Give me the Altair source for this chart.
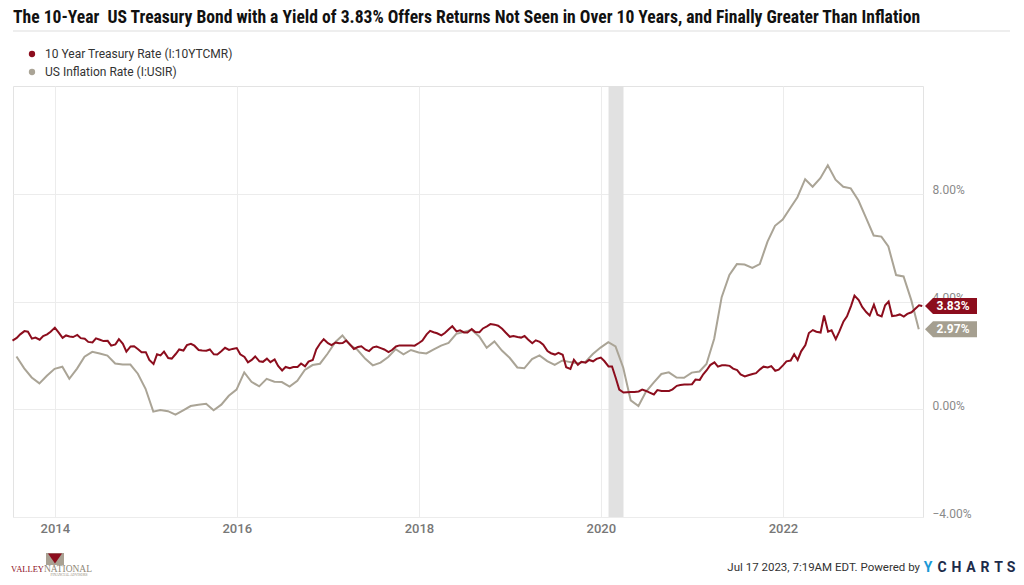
import altair as alt
import pandas as pd

# ---------------- data ----------------
# 10 Year Treasury Rate (%), semi-monthly readings (1st & 15th), Jul 2013 - Jul 2023
tsy_2013 = [2.55, 2.65, 2.78, 2.90, 2.88, 2.62, 2.66, 2.58, 2.72, 2.78, 2.88]
tsy_2014 = [3.03, 2.86, 2.65, 2.74, 2.70, 2.68, 2.76, 2.64, 2.62, 2.50, 2.48, 2.63,
            2.58, 2.53, 2.54, 2.36, 2.41, 2.60, 2.43, 2.14, 2.33, 2.34, 2.23, 2.12]
tsy_2015 = [2.12, 1.83, 1.68, 2.04, 2.00, 2.14, 1.90, 1.88, 2.05, 2.22, 2.18, 2.38,
            2.43, 2.36, 2.20, 2.18, 2.17, 2.22, 2.04, 2.03, 2.16, 2.28, 2.20, 2.24]
tsy_2016 = [2.27, 2.04, 1.94, 1.74, 1.83, 1.96, 1.78, 1.76, 1.88, 1.75, 1.85, 1.61,
            1.44, 1.57, 1.52, 1.57, 1.57, 1.70, 1.59, 1.77, 1.83, 2.22, 2.45, 2.60]
tsy_2017 = [2.45, 2.38, 2.48, 2.45, 2.46, 2.55, 2.39, 2.24, 2.31, 2.34, 2.21, 2.16,
            2.30, 2.33, 2.27, 2.22, 2.12, 2.20, 2.33, 2.37, 2.37, 2.37, 2.37, 2.36]
tsy_2018 = [2.46, 2.55, 2.78, 2.91, 2.86, 2.82, 2.74, 2.83, 2.97, 3.08, 2.89, 2.93,
            2.85, 2.85, 2.98, 2.87, 2.86, 3.00, 3.08, 3.16, 3.14, 3.10, 2.99, 2.85]
tsy_2019 = [2.69, 2.72, 2.68, 2.66, 2.72, 2.59, 2.45, 2.56, 2.50, 2.40, 2.16, 2.08,
            2.03, 2.09, 2.02, 1.56, 1.50, 1.84, 1.65, 1.76, 1.73, 1.83, 1.78, 1.87]
tsy_2020 = [1.92, 1.79, 1.59, 1.59, 1.16, 0.73, 0.62, 0.63, 0.64, 0.64, 0.66, 0.73,
            0.68, 0.62, 0.55, 0.71, 0.68, 0.68, 0.68, 0.74, 0.87, 0.90, 0.92, 0.92]
tsy_2021 = [0.93, 1.10, 1.09, 1.30, 1.45, 1.64, 1.74, 1.58, 1.63, 1.63, 1.61, 1.51,
            1.45, 1.29, 1.22, 1.26, 1.31, 1.34, 1.48, 1.58, 1.55, 1.60, 1.43, 1.47]
tsy_2022 = [1.63, 1.78, 1.81, 2.04, 1.83, 2.15, 2.38, 2.83, 2.94, 2.88, 2.85, 3.48,
            2.88, 2.93, 2.60, 2.88, 3.26, 3.45, 3.83, 4.22, 4.05, 3.80, 3.61, 3.48]
tsy_2023 = [3.88, 3.51, 3.45, 3.86, 4.00, 3.46, 3.48, 3.52, 3.44, 3.54, 3.60, 3.72,
            3.86, 3.83]

# US Inflation Rate (%), monthly, Jul 2013 - Jun 2023
inf_2013 = [1.96, 1.52, 1.18, 0.96, 1.24, 1.50]
inf_2014 = [1.58, 1.13, 1.51, 1.95, 2.13, 2.07, 1.99, 1.70, 1.66, 1.66, 1.32, 0.76]
inf_2015 = [-0.09, -0.03, -0.07, -0.20, -0.04, 0.12, 0.17, 0.20, -0.04, 0.17, 0.50, 0.73]
inf_2016 = [1.37, 1.02, 0.85, 1.13, 1.02, 1.01, 0.84, 1.06, 1.46, 1.64, 1.69, 2.07]
inf_2017 = [2.50, 2.74, 2.38, 2.20, 1.87, 1.63, 1.73, 1.94, 2.23, 2.04, 2.20, 2.11]
inf_2018 = [2.07, 2.21, 2.36, 2.46, 2.80, 2.87, 2.95, 2.70, 2.28, 2.52, 2.18, 1.91]
inf_2019 = [1.55, 1.52, 1.86, 2.00, 1.79, 1.65, 1.81, 1.75, 1.71, 1.76, 2.05, 2.29]
inf_2020 = [2.49, 2.33, 1.54, 0.33, 0.12, 0.65, 0.99, 1.31, 1.37, 1.18, 1.17, 1.36]
inf_2021 = [1.40, 1.68, 2.62, 4.16, 4.99, 5.39, 5.37, 5.25, 5.39, 6.22, 6.81, 7.04]
inf_2022 = [7.48, 7.87, 8.54, 8.26, 8.58, 9.06, 8.52, 8.26, 8.20, 7.75, 7.11, 6.45]
inf_2023 = [6.41, 6.04, 4.98, 4.93, 4.05, 2.97]

series_names = ["10 Year Treasury Rate (I:10YTCMR)", "US Inflation Rate (I:USIR)"]
year_ticks = [2014, 2016, 2018, 2020, 2022]
y_ticks = [-4, 0, 4, 8]
recession_start = "2020-02-01"
recession_end = "2020-04-01"

title_text = ("The 10-Year\u00a0 US Treasury Bond with a Yield of 3.83% Offers Returns Not Seen "
              "in Over 10 Years, and Finally Greater Than Inflation")
footer_text = "Jul 17 2023, 7:19AM EDT. Powered by"

# ---------------- tables ----------------
tsy_values = (tsy_2013 + tsy_2014 + tsy_2015 + tsy_2016 + tsy_2017 + tsy_2018 +
              tsy_2019 + tsy_2020 + tsy_2021 + tsy_2022 + tsy_2023)
tsy_dates = list(pd.date_range("2013-07-15", "2023-07-01", freq="SMS")) + [pd.Timestamp("2023-07-14")]
n = min(len(tsy_dates), len(tsy_values))
tsy_df = pd.DataFrame({"date": tsy_dates[:n], "value": tsy_values[:n]})

inf_values = (inf_2013 + inf_2014 + inf_2015 + inf_2016 + inf_2017 + inf_2018 +
              inf_2019 + inf_2020 + inf_2021 + inf_2022 + inf_2023)
inf_dates = list(pd.date_range("2013-08-01", periods=len(inf_values), freq="MS") - pd.Timedelta(days=1))
inf_df = pd.DataFrame({"date": inf_dates, "value": inf_values})

rec_df = pd.DataFrame({"start": [pd.Timestamp(recession_start)], "end": [pd.Timestamp(recession_end)]})

end_df = pd.DataFrame({
    "series": ["tsy", "inf"],
    "value": [tsy_values[-1], inf_values[-1]],
    "label": [f"{tsy_values[-1]:.2f}%", f"{inf_values[-1]:.2f}%"],
})

# ---------------- styling ----------------
RED = "#8c0d1d"
GRAY = "#aaa496"
GRAY_BOX = "#a59f90"
W, H = 910, 431

x_scale = alt.Scale(domain=[alt.DateTime(year=2013, month=7, date=17),
                            alt.DateTime(year=2023, month=7, date=17)])
y_scale = alt.Scale(domain=[-4, 12], nice=False, zero=False)

x_axis = alt.Axis(values=[alt.DateTime(year=y, month=1, date=1) for y in year_ticks],
                  format="%Y", title=None, grid=True, gridColor="#ececec", ticks=False,
                  domain=False, labelColor="#777777", labelFontSize=13, labelFont="Roboto",
                  labelFontWeight=500, labelPadding=5, labelFlush=False)
y_axis = alt.Axis(orient="right", values=y_ticks, labelExpr="format(datum.value, '.2f') + '%'",
                  title=None, grid=True, gridColor="#ececec", ticks=False, domain=False,
                  labelColor="#8a8a8a", labelFontSize=12, labelFont="Roboto", labelPadding=9,
                  labelAlign="left", labelBaseline="alphabetic", labelFlush=False)


def one(**cols):
    return pd.DataFrame({k: [v] for k, v in cols.items()})


def txt(s, x, y, **kw):
    return alt.Chart(one(t=s)).mark_text(**kw).encode(x=alt.value(x), y=alt.value(y), text="t:N")


recession = alt.Chart(rec_df).mark_rect(color="#e1e1e1").encode(
    x=alt.X("start:T", scale=x_scale, axis=x_axis), x2="end:T",
    y=alt.value(0), y2=alt.value(H))

inf_line = alt.Chart(inf_df).mark_line(color=GRAY, strokeWidth=2).encode(
    x=alt.X("date:T", scale=x_scale, axis=x_axis),
    y=alt.Y("value:Q", scale=y_scale, axis=y_axis))

tsy_line = alt.Chart(tsy_df).mark_line(color=RED, strokeWidth=2).encode(
    x=alt.X("date:T", scale=x_scale, axis=x_axis),
    y=alt.Y("value:Q", scale=y_scale, axis=y_axis))

tag_path = "M -1 0 L -0.692 -0.3077 L 1 -0.3077 L 1 0.3077 L -0.692 0.3077 Z"
tags = alt.Chart(end_df).mark_point(shape=tag_path, size=2704, filled=True, opacity=1,
                                    strokeWidth=0).encode(
    x=alt.value(938),
    y=alt.Y("value:Q", scale=y_scale, axis=y_axis),
    color=alt.Color("series:N", scale=alt.Scale(domain=["tsy", "inf"], range=[RED, GRAY_BOX]),
                    legend=None))
tag_text = alt.Chart(end_df).mark_text(color="white", fontWeight="bold", fontSize=12,
                                       font="Roboto", align="center", baseline="middle").encode(
    x=alt.value(940), y=alt.Y("value:Q", scale=y_scale, axis=y_axis), text="label:N")

# title, separator, legend
title = txt(title_text, 0, -68, align="left", baseline="middle", fontSize=17.6, fontWeight="bold",
            font="Liberation Sans Narrow, Roboto Condensed, Roboto", color="#111111")
separator = alt.Chart(one(a=0)).mark_rule(color="#dddddd", strokeWidth=1).encode(
    x=alt.value(0), x2=alt.value(997), y=alt.value(-55))

leg_dot1 = alt.Chart(one(a=0)).mark_circle(size=40, color=RED, opacity=1).encode(
    x=alt.value(19), y=alt.value(-32))
leg_dot2 = alt.Chart(one(a=0)).mark_circle(size=40, color=GRAY, opacity=1).encode(
    x=alt.value(19), y=alt.value(-14))
leg_t1 = txt(series_names[0], 32, -32, align="left", baseline="middle", fontSize=12,
             font="Roboto", color="#333333")
leg_t2 = txt(series_names[1], 32, -14, align="left", baseline="middle", fontSize=12,
             font="Roboto", color="#333333")

# footer
FOOT_Y = 482
footer = txt(footer_text, 907, FOOT_Y, align="right", baseline="middle", fontSize=11.5,
             font="Roboto", color="#333333")
ych_letters = ["Y", "C", "H", "A", "R", "T", "S"]
ych_x = [915, 929, 943.5, 958, 972, 985.5, 998]
ych_layers = []
for letter, lx in zip(ych_letters, ych_x):
    ych_layers.append(txt(letter, lx, FOOT_Y, align="center", baseline="middle", fontSize=14,
                          fontWeight="bold", font="Roboto",
                          color="#1a9ad6" if letter == "Y" else "#1d2b4a"))

# logo
rect_path = "M -1 -0.667 L 1 -0.667 L 1 0.667 L -1 0.667 Z"
tri_path = "M -0.78 -0.62 L 0.78 -0.62 L 0 0.5 Z"
logo_box = alt.Chart(one(a=0)).mark_point(shape=rect_path, size=324, filled=True, opacity=1,
                                          color="#a9a193", strokeWidth=0).encode(
    x=alt.value(42), y=alt.value(473))
logo_tri = alt.Chart(one(a=0)).mark_point(shape=tri_path, size=324, filled=True, opacity=1,
                                          color="#8c0d1d", strokeWidth=0).encode(
    x=alt.value(42), y=alt.value(473))
logo_t1 = txt("VALLEY", 31, 483, align="right", baseline="middle", fontSize=8.5,
              font="Liberation Serif", color="#8c0d1d")
logo_t2 = txt("NATIONAL", 31, 483, align="left", baseline="middle", fontSize=9.5,
              font="Liberation Serif", color="#8f8778")
logo_t3 = txt("FINANCIAL ADVISORS", 56, 488.5, align="center", baseline="middle", fontSize=3.5,
              font="Liberation Serif", color="#8f8778")

chart = alt.layer(
    recession, inf_line, tsy_line, tags, tag_text,
    title, separator, leg_dot1, leg_dot2, leg_t1, leg_t2,
    footer, *ych_layers, logo_box, logo_tri, logo_t1, logo_t2, logo_t3,
).properties(
    width=W, height=H,
    autosize=alt.AutoSizeParams(type="none"),
    padding={"left": 5, "top": 78, "right": 93, "bottom": 60},
    background="white",
).configure_view(stroke="#e3e3e3", strokeWidth=1)

chart.save("out.html", embed_options={"renderer": "svg", "actions": False})
